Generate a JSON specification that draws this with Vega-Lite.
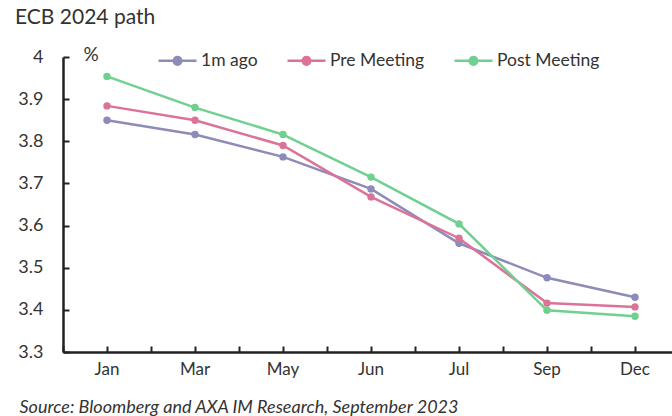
{
  "$schema": "https://vega.github.io/schema/vega-lite/v6.json",
  "autosize": "none",
  "width": 616,
  "height": 295,
  "padding": {"left": 63, "top": 57, "right": 0, "bottom": 64},
  "background": "white",
  "config": {
    "font": "Lato",
    "view": {"stroke": null}
  },
  "title": {
    "text": "ECB 2024 path",
    "anchor": "start",
    "frame": "group",
    "dx": -48,
    "offset": 12,
    "fontSize": 21,
    "fontWeight": "normal",
    "color": "#333333",
    "font": "Lato"
  },
  "data": {
    "values": [
      {"month": "Jan", "series": "1m ago", "rate": 3.85},
      {"month": "Mar", "series": "1m ago", "rate": 3.816},
      {"month": "May", "series": "1m ago", "rate": 3.763},
      {"month": "Jun", "series": "1m ago", "rate": 3.687},
      {"month": "Jul", "series": "1m ago", "rate": 3.558},
      {"month": "Sep", "series": "1m ago", "rate": 3.476},
      {"month": "Dec", "series": "1m ago", "rate": 3.43},
      {"month": "Jan", "series": "Pre Meeting", "rate": 3.884},
      {"month": "Mar", "series": "Pre Meeting", "rate": 3.85},
      {"month": "May", "series": "Pre Meeting", "rate": 3.79},
      {"month": "Jun", "series": "Pre Meeting", "rate": 3.668},
      {"month": "Jul", "series": "Pre Meeting", "rate": 3.57},
      {"month": "Sep", "series": "Pre Meeting", "rate": 3.416},
      {"month": "Dec", "series": "Pre Meeting", "rate": 3.407},
      {"month": "Jan", "series": "Post Meeting", "rate": 3.954},
      {"month": "Mar", "series": "Post Meeting", "rate": 3.88},
      {"month": "May", "series": "Post Meeting", "rate": 3.816},
      {"month": "Jun", "series": "Post Meeting", "rate": 3.715},
      {"month": "Jul", "series": "Post Meeting", "rate": 3.604},
      {"month": "Sep", "series": "Post Meeting", "rate": 3.399},
      {"month": "Dec", "series": "Post Meeting", "rate": 3.385}
    ]
  },
  "resolve": {"axis": {"x": "independent"}},
  "layer": [
    {
      "mark": {"type": "line", "strokeWidth": 2.5},
      "encoding": {
        "x": {
          "field": "month",
          "type": "ordinal",
          "sort": ["Jan", "Mar", "May", "Jun", "Jul", "Sep", "Dec"],
          "scale": {"type": "band", "paddingInner": 0, "paddingOuter": 0},
          "axis": {
            "orient": "bottom",
            "title": "Source: Bloomberg and AXA IM Research, September 2023",
            "titleAnchor": "start",
            "titleAlign": "left",
            "titleX": -44,
            "titleY": 55,
            "titleBaseline": "middle",
            "titleFont": "Lato",
            "titleFontSize": 18,
            "titleFontStyle": "italic",
            "titleFontWeight": "normal",
            "titleColor": "#333333",
            "labelAngle": 0,
            "labelFont": "Lato",
            "labelFontSize": 17,
            "labelColor": "#333333",
            "labelPadding": 15,
            "tickSize": -6,
            "tickWidth": 2,
            "tickColor": "#222222",
            "domainColor": "#222222",
            "domainWidth": 2.5,
            "grid": false
          }
        },
        "y": {
          "field": "rate",
          "type": "quantitative",
          "scale": {"domain": [3.3, 4], "zero": false, "nice": false},
          "axis": {
            "values": [3.3, 3.4, 3.5, 3.6, 3.7, 3.8, 3.9, 4],
            "format": ".1~f",
            "title": "%",
            "titleAngle": 0,
            "titleAlign": "left",
            "titleBaseline": "middle",
            "titleX": 20,
            "titleY": -3,
            "titleFont": "Lato",
            "titleFontSize": 19,
            "titleFontWeight": "normal",
            "titleColor": "#333333",
            "labelFont": "Lato",
            "labelFontSize": 18,
            "labelColor": "#333333",
            "labelPadding": 26,
            "tickSize": -6,
            "tickWidth": 2,
            "tickColor": "#222222",
            "domainColor": "#222222",
            "domainWidth": 2.5,
            "grid": false
          }
        },
        "color": {
          "field": "series",
          "type": "nominal",
          "sort": ["1m ago", "Pre Meeting", "Post Meeting"],
          "scale": {
            "domain": ["1m ago", "Pre Meeting", "Post Meeting"],
            "range": ["#8d8bb9", "#db7399", "#6fd08f"]
          },
          "legend": {
            "title": null,
            "orient": "none",
            "direction": "horizontal",
            "legendX": 94,
            "legendY": -17,
            "symbolType": "M-1,0L1,0M-0.2,0A0.2,0.2 0 1,1 0.2,0A0.2,0.2 0 1,1 -0.2,0Z",
            "symbolSize": 1444,
            "symbolStrokeWidth": 2.5,
            "symbolOpacity": 1,
            "labelFont": "Lato",
            "labelFontSize": 17.5,
            "labelColor": "#333333",
            "labelOffset": 3,
            "columnPadding": 24
          }
        }
      }
    },
    {
      "mark": {"type": "point", "filled": true, "size": 55, "opacity": 1},
      "encoding": {
        "x": {
          "field": "month",
          "type": "ordinal",
          "sort": ["Jan", "Mar", "May", "Jun", "Jul", "Sep", "Dec"],
          "axis": {
            "orient": "bottom",
            "tickBand": "extent",
            "labels": false,
            "domain": false,
            "title": null,
            "tickSize": -6,
            "tickWidth": 2,
            "tickColor": "#222222",
            "grid": false
          }
        },
        "y": {"field": "rate", "type": "quantitative"},
        "color": {"field": "series", "type": "nominal", "sort": ["1m ago", "Pre Meeting", "Post Meeting"]}
      }
    }
  ]
}
